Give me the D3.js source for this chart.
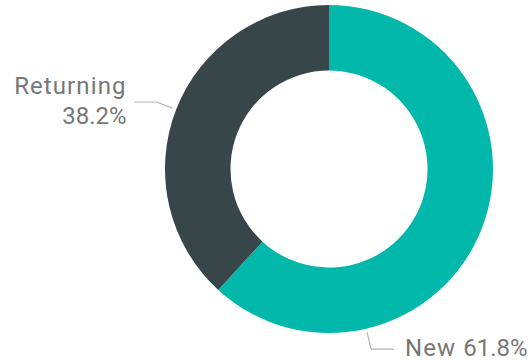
<!DOCTYPE html>
<html>
<head>
<meta charset="utf-8">
<script src="https://cdn.jsdelivr.net/npm/d3@7/dist/d3.min.js"></script>
<style>
  html, body { margin: 0; padding: 0; background: #fff; }
  svg { display: block; }
  .lbl { font-family: Roboto, "Noto Sans", sans-serif; font-size: 24px; fill: #777777; }
  .name { letter-spacing: 1.1px; }
</style>
</head>
<body>
<svg id="chart" width="529" height="363"></svg>
<script>
// Visitor split
const categories = ["New", "Returning"];
const shares = [61.8, 38.2];
const colors = ["#01B8AA", "#374649"];

const width = 529, height = 363;
const cx = 329, cy = 169;
const outerR = 164, innerR = 98.5;

const svg = d3.select("#chart");
const g = svg.append("g").attr("transform", `translate(${cx},${cy})`);

const pie = d3.pie().sort(null).value(d => d.value);
const arcs = pie(categories.map((c, i) => ({ name: c, value: shares[i], color: colors[i] })));

const arc = d3.arc().innerRadius(innerR).outerRadius(outerR);

g.selectAll("path.slice")
  .data(arcs)
  .join("path")
  .attr("class", "slice")
  .attr("d", arc)
  .attr("fill", d => d.data.color);

// Leader lines: anchor angle per slice (radians from 12 o'clock, clockwise)
const anchorAngle = {
  New: (d) => d.startAngle + (d.endAngle - d.startAngle) * 0.75,
  Returning: (d) => (d.startAngle + d.endAngle) / 2
};

function polar(r, a) { return [r * Math.sin(a), -r * Math.cos(a)]; }

const pct = v => d3.format(".1f")(v) + "%";

arcs.forEach(d => {
  const a = anchorAngle[d.data.name](d);
  const p0 = polar(outerR + 4, a);
  const p1 = polar(outerR + 21, a);
  const left = Math.sin(a) < 0;
  const p2 = [p1[0] + (left ? -22 : 23), p1[1]];
  g.append("polyline")
    .attr("points", [p0, p1, p2].map(p => p.join(",")).join(" "))
    .attr("fill", "none")
    .attr("stroke", "#b3b3b3")
    .attr("stroke-width", 1.2);

  const tx = p2[0] + (left ? -8 : 11);
  const label = g.append("text")
    .attr("class", "lbl")
    .attr("text-anchor", left ? "end" : "start")
    .attr("x", tx);
  if (left) {
    label.append("tspan").attr("class", "name").attr("x", tx).attr("y", p1[1] - 7.5).text(d.data.name);
    label.append("tspan").attr("x", tx).attr("y", p1[1] + 22.5).text(pct(d.data.value));
  } else {
    label.attr("y", p1[1] + 7);
    label.append("tspan").attr("class", "name").text(d.data.name + " ");
    label.append("tspan").text(pct(d.data.value));
  }
});
</script>
</body>
</html>
